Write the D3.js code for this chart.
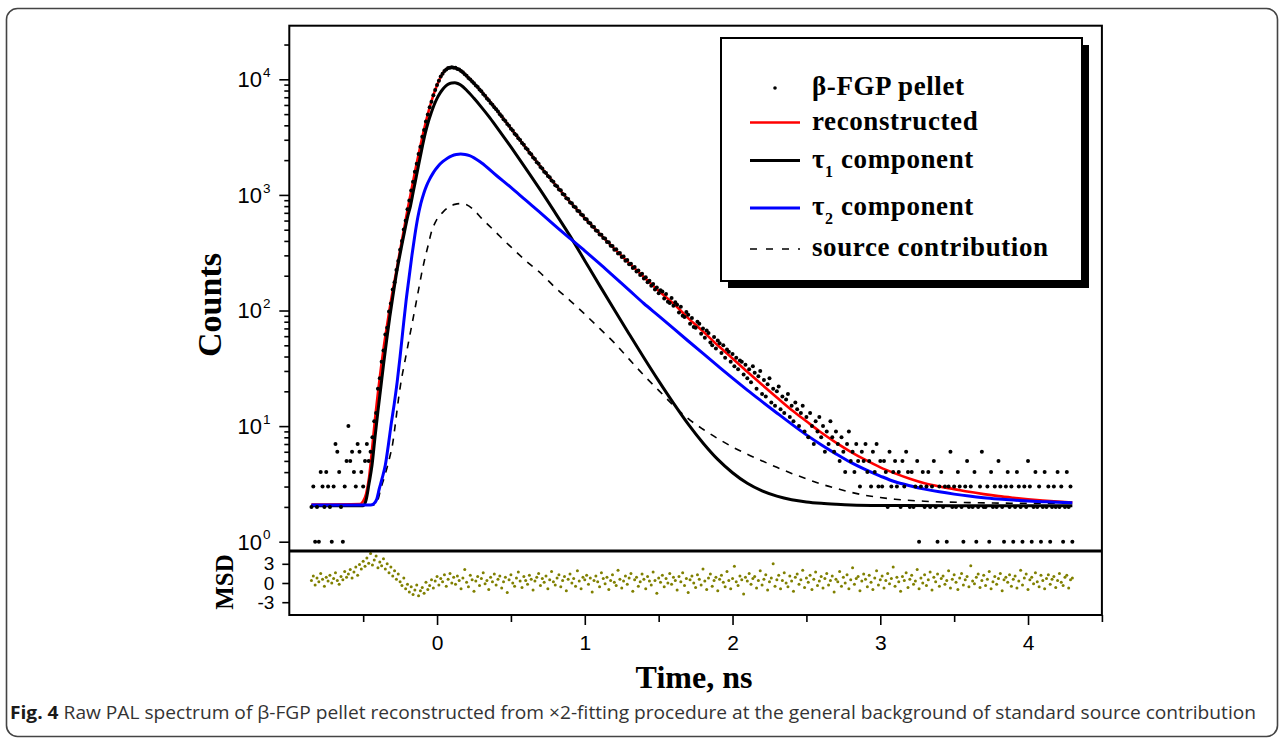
<!DOCTYPE html>
<html>
<head>
<meta charset="utf-8">
<title>Raw PAL spectrum of β-FGP pellet</title>
<script src="https://cdn.jsdelivr.net/npm/d3@7"></script>
<style>
  body { margin: 0; background: #fff; }
  svg { display: block; }
  .serif { font-family: "Liberation Serif", "Times New Roman", serif; font-weight: bold; }
  .sans { font-family: "Liberation Sans", Arial, sans-serif; }
</style>
</head>
<body>
<div id="chart"></div>
<script>
// spectrum channels: time of channel i = channelStart + i * channelWidth (ns)
var channelStart = -0.85,
    channelWidth = 0.0125;

// raw counts per channel
var counts = [
  2,3,1,2,1,4,3,2,4,3, 2,1,3,7,6,4,2,1,3,5, 10,5,6,4,3,7,6,4,
  3,5,7,5,6,8,11,13,21,26,
  36,45,62,71,98,115,152,176,224,268,
  335,400,502,598,750,893,1090,1297,1585,1862,
  2260,2610,3190,3650,4320,4960,5740,6400,7290,8070,
  8950,9700,10560,11150,11820,12180,12560,12610,12750,12590,
  12600,12310,12160,11780,11540,11050,10740,10290,9980,9560,
  9270,8840,8570,8150,7880,7460,7200,6830,6590,6250,
  6030,5720,5520,5270,4980,4790,4520,4360,4110,3970,
  3740,3600,3390,3280,3090,2990,2810,2720,2550,2470,
  2320,2250,2110,2050,1915,1860,1745,1695,1590,1550,
  1455,1420,1330,1300,1215,1190,1115,1095,1020,1003,
  938,922,860,848,795,781,730,721,676,666,
  622,615,577,569,532,527,493,488,455,452,
  423,420,391,390,364,362,336,338,312,315,
  290,293,270,273,251,254,233,238,218,222,
  203,208,189,194,176,181,164,170,152,158,
  141,150,146,127,139,119,116,128,110,118,
  112,96,108,90,88,97,92,77,86,72,
  71,80,77,63,70,58,67,64,53,50,
  59,47,55,52,43,50,39,46,44,36,
  42,33,39,31,37,36,28,34,26,31,
  24,33,29,21,27,30,19,25,18,23,
  26,16,21,15,20,22,14,18,13,17,
  19,12,15,11,16,14,10,13,15,9,
  12,
  8,13,10,7,11,9,12,8, 10,6,9,7,11,8,6,9, 7,5,8,6,4,7,9,5,
  6,4,7,5,3,6,5,7, 4,5,3,6,4,7,3,5, 3,5,4,2,6,3,4,5,
  3,4,2,5,3,6,4,2, 4,2,3,5,1,3,4,2, 3,4,2,3,5,2,1,3,
  4,2,3,1,3,6,2,3, 2,4,3,2,1,3,5,2, 3,2,4,1,2,3,6,2,
  2,3,1,4,2,3,2,5, 3,2,1,3,4,2,3,1, 2,4,3,2,1,3,2,5,
  3,1,2,4,2,3,1,2, 4,2,3,1,2,3,2,4, 2,3,1,2,4,2,3,1
];

// residuals per channel (MSD panel)
var msd = [
  0.4,1.1,-0.3,0.8,0.2,1.5,0.6,-0.5,0.9,0.3,1.2,0.0,0.7,1.6,0.4,-0.2,1.0,0.5,1.8,0.9,
  1.4,2.1,0.8,1.7,2.5,1.2,2.9,2.2,3.4,2.6,3.9,3.1,4.6,2.8,3.6,4.2,2.4,3.3,2.7,3.8,
  2.2,3.0,1.6,2.5,1.1,1.9,0.6,1.4,0.2,-0.4,0.8,-0.9,-0.2,-1.4,-0.6,-1.8,-1.1,-0.3,-2.0,-1.2,
  -0.7,-1.6,0.1,-1.0,-0.4,0.5,-0.8,0.3,1.0,-0.3,0.7,0.2,1.3,-0.5,0.6,1.5,0.0,0.9,-0.2,1.1,
  0.4,-0.9,0.8,2.1,0.1,-0.6,1.2,0.5,-1.3,0.3,1.0,-0.4,0.7,1.6,-0.1,0.4,-1.0,0.9,0.2,1.4,
  -0.3,0.6,1.1,-0.8,0.2,0.9,-1.5,0.5,1.3,0.0,-0.5,0.8,1.7,0.3,-0.7,1.0,0.4,-0.2,1.2,0.6,
  -1.1,0.3,0.9,1.5,-0.4,0.7,0.1,1.1,-0.9,0.5,1.8,0.2,-0.3,0.8,1.3,-0.6,0.4,1.0,-1.2,0.6,
  1.4,0.0,0.7,-0.5,1.9,0.3,-0.9,0.9,0.5,1.2,-0.2,0.8,-1.4,0.4,1.1,0.2,-0.6,1.6,0.7,-0.1,
  0.9,-1.0,0.4,1.3,0.1,-0.4,2.0,0.6,-0.8,0.3,1.1,-0.2,0.8,1.5,-1.3,0.5,0.9,-0.5,0.2,1.4,
  0.6,-0.9,1.0,0.3,-0.3,1.7,0.4,-1.6,0.8,0.1,1.2,-0.6,0.7,0.0,1.5,-0.2,0.9,0.4,-1.1,1.0,
  0.2,1.6,-0.4,0.7,-1.5,0.5,1.1,0.0,-0.7,1.3,0.6,-0.3,2.2,0.3,-1.0,0.8,1.4,-0.5,0.4,0.9,
  -1.2,0.6,1.2,0.1,-0.6,1.8,0.4,-0.9,0.7,2.6,0.2,-0.4,1.1,0.5,-1.7,0.9,0.3,1.5,-0.2,0.7,
  1.0,-0.8,0.4,1.9,-0.3,0.6,1.3,-1.1,0.2,0.8,3.0,-0.5,0.5,1.2,-0.9,0.4,1.6,0.0,-0.6,1.1,
  0.3,-1.3,0.9,1.4,-0.2,0.5,2.0,-0.7,0.8,0.1,1.2,-1.0,0.6,1.7,-0.4,0.3,1.0,-0.8,0.7,1.5,
  -0.3,0.4,1.1,-1.4,0.6,0.2,1.8,-0.5,0.9,0.0,1.3,-0.9,0.5,2.4,-0.2,0.7,1.0,-1.2,0.3,1.4,
  0.6,-0.6,1.2,0.1,-1.0,0.8,1.9,-0.3,0.5,1.1,-0.8,0.4,1.5,-0.1,0.7,2.5,-0.5,0.9,0.2,-1.3,
  1.0,0.4,1.6,-0.7,0.6,1.2,-0.2,0.3,2.1,-0.9,0.8,0.0,1.3,-0.4,0.5,1.7,-1.1,0.9,0.2,1.4,
  -0.5,0.7,1.1,-0.2,0.4,1.9,-0.8,0.6,1.3,0.1,-1.0,0.8,1.5,-0.3,0.5,1.0,-0.6,2.7,0.3,-0.1,
  0.9,1.4,-0.7,0.4,1.2,-0.4,0.6,1.8,-0.9,0.2,1.0,-0.2,0.7,1.5,-1.2,0.5,0.9,0.1,1.3,-0.5,
  0.6,1.1,-0.8,0.3,2.0,-0.3,0.8,1.4,-1.0,0.5,0.9,-0.1,1.6,0.2,-0.6,1.2,0.4,-0.9,0.7,1.3,
  -0.2,0.6,1.0,-0.7,0.4,1.5,0.1,-0.4,0.9,1.2,-0.8,0.5,0.8
];

// fitted curves, [time (ns), counts]
var reconstructed = [
  [-0.85,2.1],[-0.52,2.12],[-0.50,2.24],[-0.48,2.6],[-0.46,3.6],[-0.44,6.3],[-0.42,11.5],
  [-0.40,19.5],[-0.38,31.6],[-0.36,49],[-0.34,72],[-0.32,105],[-0.30,148],[-0.28,204],
  [-0.26,282],[-0.24,389],[-0.22,537],[-0.20,741],[-0.18,1000],[-0.16,1349],[-0.14,1820],
  [-0.12,2400],[-0.10,3160],[-0.08,4070],[-0.06,5130],[-0.04,6310],[-0.02,7590],[0.00,8900],
  [0.02,10200],[0.04,11350],[0.06,12160],[0.08,12590],[0.10,12700],[0.12,12590],[0.14,12300],
  [0.16,11900],[0.18,11350],[0.20,10700],[0.25,9230],[0.30,7850],[0.40,5500],[0.50,3760],
  [0.60,2570],[0.70,1760],[0.80,1230],[0.90,870],[1.00,630],[1.10,462],[1.20,343],[1.30,257],
  [1.40,195],[1.50,148],[1.60,115],[1.70,86],[1.80,66],[1.90,50],[2.00,38.5],[2.10,29.5],
  [2.20,22.8],[2.30,17.7],[2.40,13.8],[2.50,11.0],[2.60,8.8],[2.70,7.2],[2.80,6.0],[2.90,5.1],
  [3.00,4.4],[3.10,3.9],[3.20,3.5],[3.30,3.2],[3.40,3.0],[3.50,2.85],[3.60,2.7],[3.70,2.58],
  [3.80,2.48],[3.90,2.4],[4.00,2.33],[4.10,2.27],[4.20,2.22],[4.30,2.18]
];

var tau1Component = [
  [-0.85,2.05],[-0.50,2.05],[-0.48,2.3],[-0.46,3.2],[-0.44,4.6],[-0.42,8.0],[-0.40,13.5],
  [-0.38,22],[-0.36,36],[-0.34,57],[-0.32,88],[-0.30,130],[-0.28,190],[-0.26,265],[-0.24,360],
  [-0.22,480],[-0.20,640],[-0.18,800],[-0.16,1080],[-0.14,1450],[-0.12,1950],[-0.10,2600],
  [-0.08,3400],[-0.06,4250],[-0.04,5100],[-0.02,6000],[0.00,6850],[0.02,7600],[0.04,8250],
  [0.06,8780],[0.08,9130],[0.10,9310],[0.12,9330],[0.14,9200],[0.16,8920],[0.20,8050],
  [0.25,6850],[0.30,5750],[0.35,4780],[0.40,3920],[0.45,3200],[0.50,2600],[0.60,1700],
  [0.70,1100],[0.80,700],[0.90,442],[1.00,270],[1.10,165],[1.20,101.5],[1.30,62.7],[1.40,39],
  [1.50,24.6],[1.60,15.8],[1.70,10.4],[1.80,7.15],[1.90,5.15],[2.00,3.95],[2.10,3.2],
  [2.20,2.75],[2.30,2.48],[2.40,2.31],[2.50,2.21],[2.60,2.15],[2.70,2.11],[2.80,2.08],
  [3.00,2.06],[3.50,2.05],[4.30,2.05]
];

var tau2Component = [
  [-0.85,2.08],[-0.45,2.08],[-0.43,2.12],[-0.41,2.3],[-0.39,2.9],[-0.37,3.6],[-0.35,4.6],
  [-0.33,6.8],[-0.31,10.5],[-0.29,15.5],[-0.27,24],[-0.25,40],[-0.23,70],[-0.21,120],
  [-0.19,190],[-0.17,300],[-0.15,450],[-0.13,640],[-0.11,840],[-0.09,1030],[-0.07,1210],
  [-0.05,1370],[-0.03,1520],[-0.01,1660],[0.01,1790],[0.04,1950],[0.07,2080],[0.10,2180],
  [0.13,2240],[0.16,2260],[0.19,2240],[0.22,2190],[0.30,1900],[0.40,1480],[0.50,1160],
  [0.60,900],[0.70,700],[0.80,540],[0.90,420],[1.00,328],[1.10,254],[1.20,195],[1.30,150],
  [1.40,115],[1.50,90],[1.60,70],[1.70,54.5],[1.80,42.5],[1.90,33.2],[2.00,26],[2.10,20.5],
  [2.20,16.3],[2.30,13.0],[2.40,10.4],[2.50,8.4],[2.60,6.9],[2.70,5.75],[2.80,4.85],[2.90,4.2],
  [3.00,3.7],[3.10,3.3],[3.20,3.05],[3.30,2.85],[3.40,2.7],[3.50,2.58],[3.60,2.48],[3.70,2.4],
  [3.80,2.34],[3.90,2.29],[4.00,2.25],[4.10,2.22],[4.20,2.19],[4.30,2.17]
];

var sourceContribution = [
  [-0.85,2.08],[-0.42,2.08],[-0.40,2.3],[-0.38,2.9],[-0.36,3.5],[-0.34,4.3],[-0.32,5.4],
  [-0.30,7.1],[-0.28,11],[-0.26,17.5],[-0.24,25.8],[-0.22,35],[-0.20,47.8],[-0.18,65],
  [-0.16,88],[-0.14,120],[-0.12,164],[-0.10,223],[-0.08,290],[-0.06,367],[-0.04,468],
  [-0.02,550],[0.00,617],[0.04,710],[0.08,785],[0.12,828],[0.16,841],[0.20,822],[0.25,740],
  [0.30,630],[0.35,545],[0.40,473],[0.45,408],[0.50,355],[0.60,270],[0.70,211],[0.80,158],
  [0.90,122],[1.00,93],[1.10,70],[1.20,52.5],[1.30,38],[1.40,27.5],[1.50,20.4],[1.60,15.1],
  [1.70,11.6],[1.80,9.4],[1.90,7.8],[2.00,6.6],[2.10,5.7],[2.20,5.0],[2.30,4.4],[2.40,3.9],
  [2.50,3.5],[2.60,3.15],[2.70,2.9],[2.80,2.68],[2.90,2.52],[3.00,2.41],[3.10,2.33],
  [3.30,2.24],[3.60,2.18],[4.00,2.15],[4.30,2.15]
];

var xTicks = [0, 1, 2, 3, 4],
    xMinorTicks = [-0.5, 0.5, 1.5, 2.5, 3.5, 4.5],
    yDecades = [0, 1, 2, 3, 4],
    msdTicks = [-3, 0, 3];

var legendLabels = ["β-FGP pellet", "reconstructed", "τ_1 component", "τ_2 component", "source contribution"];

var width = 1284,
    height = 739,
    plot = {left: 289.3, right: 1101.9, top: 25.7, mid: 551, bottom: 615};

var x = d3.scaleLinear().domain([-1, 4.5]).range([plot.left, plot.right]),
    y = d3.scaleLog().domain([0.831, 29100]).range([plot.mid, plot.top]),
    yMsd = d3.scaleLinear().domain([-5, 5]).range([plot.bottom, plot.mid]);

function channelTime(i) { return channelStart + i * channelWidth; }

var svg = d3.select("#chart").append("svg")
    .attr("width", width)
    .attr("height", height);

// outer figure frame
svg.append("rect")
    .attr("x", 6.5).attr("y", 8.5)
    .attr("width", 1271).attr("height", 728)
    .attr("rx", 11)
    .attr("fill", "none")
    .attr("stroke", "#444")
    .attr("stroke-width", 1.6);

// fitted curves
var line = d3.line()
    .x(function(d) { return x(d[0]); })
    .y(function(d) { return y(d[1]); })
    .curve(d3.curveMonotoneX);

var curves = [
  {data: sourceContribution, color: "#000", width: 1.6, dash: "7,7"},
  {data: reconstructed, color: "#ff0000", width: 2.6},
  {data: tau1Component, color: "#000", width: 3},
  {data: tau2Component, color: "#0000ff", width: 3}
];

svg.append("g").attr("class", "curves")
  .selectAll("path").data(curves).enter().append("path")
    .attr("d", function(d) { return line(d.data); })
    .attr("fill", "none")
    .attr("stroke", function(d) { return d.color; })
    .attr("stroke-width", function(d) { return d.width; })
    .attr("stroke-dasharray", function(d) { return d.dash || null; });

// raw spectrum points
svg.append("g").attr("class", "points")
  .selectAll("circle").data(counts).enter().append("circle")
    .attr("cx", function(d, i) { return x(channelTime(i)); })
    .attr("cy", function(d) { return y(d); })
    .attr("r", 2)
    .attr("fill", "#000");

// residuals
svg.append("g").attr("class", "msd")
  .selectAll("circle").data(msd).enter().append("circle")
    .attr("cx", function(d, i) { return x(channelTime(i)); })
    .attr("cy", function(d) { return yMsd(d); })
    .attr("r", 1.5)
    .attr("fill", "#808000");

// frames
svg.append("rect")
    .attr("x", plot.left).attr("y", plot.top)
    .attr("width", plot.right - plot.left).attr("height", plot.bottom - plot.top)
    .attr("fill", "none").attr("stroke", "#000").attr("stroke-width", 2);
svg.append("line")
    .attr("x1", plot.left).attr("x2", plot.right)
    .attr("y1", plot.mid).attr("y2", plot.mid)
    .attr("stroke", "#000").attr("stroke-width", 3);

function styleAxis(g) {
  g.select(".domain").remove();
  g.selectAll(".tick line").attr("stroke", "#000").attr("stroke-width", 1.6);
}

// main y axis (log)
var yMajor = yDecades.map(function(e) { return Math.pow(10, e); });
var yMinor = [];
yDecades.forEach(function(e) {
  for (var k = 2; k <= 9; k++) {
    var v = k * Math.pow(10, e);
    if (v < y.domain()[1]) yMinor.push(v);
  }
});

svg.append("g").attr("transform", "translate(" + plot.left + ",0)")
    .call(d3.axisLeft(y).tickValues(yMajor).tickSize(10).tickFormat(""))
    .call(styleAxis);
svg.append("g").attr("transform", "translate(" + plot.left + ",0)")
    .call(d3.axisLeft(y).tickValues(yMinor).tickSize(5).tickFormat(""))
    .call(styleAxis);

// decade labels: "10" with the exponent as a superscript
var yLabels = svg.append("g").attr("class", "sans")
  .selectAll("g").data(yDecades).enter().append("g")
    .attr("transform", function(e) { return "translate(0," + y(Math.pow(10, e)) + ")"; });
yLabels.append("text")
    .attr("x", 262).attr("y", 7.8)
    .attr("text-anchor", "end")
    .attr("font-size", 22)
    .text("10");
yLabels.append("text")
    .attr("x", 263).attr("y", -2.4)
    .attr("font-size", 13.5)
    .text(function(e) { return e; });

// MSD axis
svg.append("g").attr("class", "sans")
    .attr("transform", "translate(" + plot.left + ",0)")
    .call(d3.axisLeft(yMsd).tickValues(msdTicks).tickSize(7).tickPadding(8)
      .tickFormat(function(d) { return String(d); }))
    .call(styleAxis)
    .call(function(g) {
      g.selectAll("text").attr("font-size", 19).attr("fill", "#000")
        .attr("font-family", "'Liberation Sans', Arial, sans-serif");
    });

// x axis
svg.append("g").attr("transform", "translate(0," + plot.bottom + ")")
    .call(d3.axisBottom(x).tickValues(xMinorTicks).tickSize(7).tickFormat(""))
    .call(styleAxis);
svg.append("g").attr("transform", "translate(0," + plot.bottom + ")")
    .call(d3.axisBottom(x).tickValues(xTicks).tickSize(10).tickPadding(10)
      .tickFormat(function(d) { return String(d); }))
    .call(styleAxis)
    .call(function(g) {
      g.selectAll("text").attr("font-size", 21).attr("fill", "#000")
        .attr("font-family", "'Liberation Sans', Arial, sans-serif");
    });

// axis titles
svg.append("text").attr("class", "serif")
    .attr("transform", "translate(221,305) rotate(-90)")
    .attr("text-anchor", "middle")
    .attr("font-size", 34)
    .text("Counts");
svg.append("text").attr("class", "serif")
    .attr("transform", "translate(233,582) rotate(-90)")
    .attr("text-anchor", "middle")
    .attr("font-size", 25)
    .text("MSD");
svg.append("text").attr("class", "serif")
    .attr("x", 694).attr("y", 688)
    .attr("text-anchor", "middle")
    .attr("font-size", 32)
    .text("Time, ns");

// legend
var legend = svg.append("g").attr("class", "legend");
legend.append("rect")
    .attr("x", 728).attr("y", 45).attr("width", 361).attr("height", 243)
    .attr("fill", "#000");
legend.append("rect")
    .attr("x", 721).attr("y", 38).attr("width", 361).attr("height", 243)
    .attr("fill", "#fff").attr("stroke", "#000").attr("stroke-width", 2);

var legendRowY = [88, 122.5, 160.5, 208, 249];
var legendSymbols = [
  {type: "dot"},
  {color: "#ff0000", width: 2.6},
  {color: "#000", width: 3},
  {color: "#0000ff", width: 3},
  {color: "#000", width: 1.6, dash: "7,9"}
];

var rows = legend.selectAll("g.row").data(legendLabels).enter().append("g")
    .attr("class", "row")
    .attr("transform", function(d, i) { return "translate(0," + legendRowY[i] + ")"; });

rows.each(function(d, i) {
  var g = d3.select(this), s = legendSymbols[i];
  if (s.type === "dot") {
    g.append("circle").attr("cx", 775).attr("cy", 0).attr("r", 1.8).attr("fill", "#000");
  } else {
    g.append("line").attr("x1", 750).attr("x2", 800).attr("y1", 0).attr("y2", 0)
      .attr("stroke", s.color).attr("stroke-width", s.width)
      .attr("stroke-dasharray", s.dash || null);
  }
  var parts = d.split("_");
  var t = g.append("text").attr("class", "serif")
      .attr("x", 812).attr("y", 7)
      .attr("font-size", 27)
      .attr("letter-spacing", 0.6);
  if (parts.length === 1) {
    t.text(d);
  } else {
    t.append("tspan").text(parts[0]);
    t.append("tspan").attr("dy", 9).attr("font-size", 16).text(parts[1].charAt(0));
    t.append("tspan").attr("dy", -9).text(parts[1].slice(1));
  }
});

// caption
var caption = svg.append("text")
    .attr("x", 10).attr("y", 719)
    .attr("font-family", "'Open Sans', 'Noto Sans', sans-serif")
    .attr("font-size", 18.5)
    .attr("textLength", 1246)
    .attr("lengthAdjust", "spacingAndGlyphs");
caption.append("tspan").attr("font-weight", "bold").attr("fill", "#1a1a1a").text("Fig. 4");
caption.append("tspan").attr("fill", "#333")
    .text(" Raw PAL spectrum of β-FGP pellet reconstructed from ×2-fitting procedure at the general background of standard source contribution");
</script>
</body>
</html>
